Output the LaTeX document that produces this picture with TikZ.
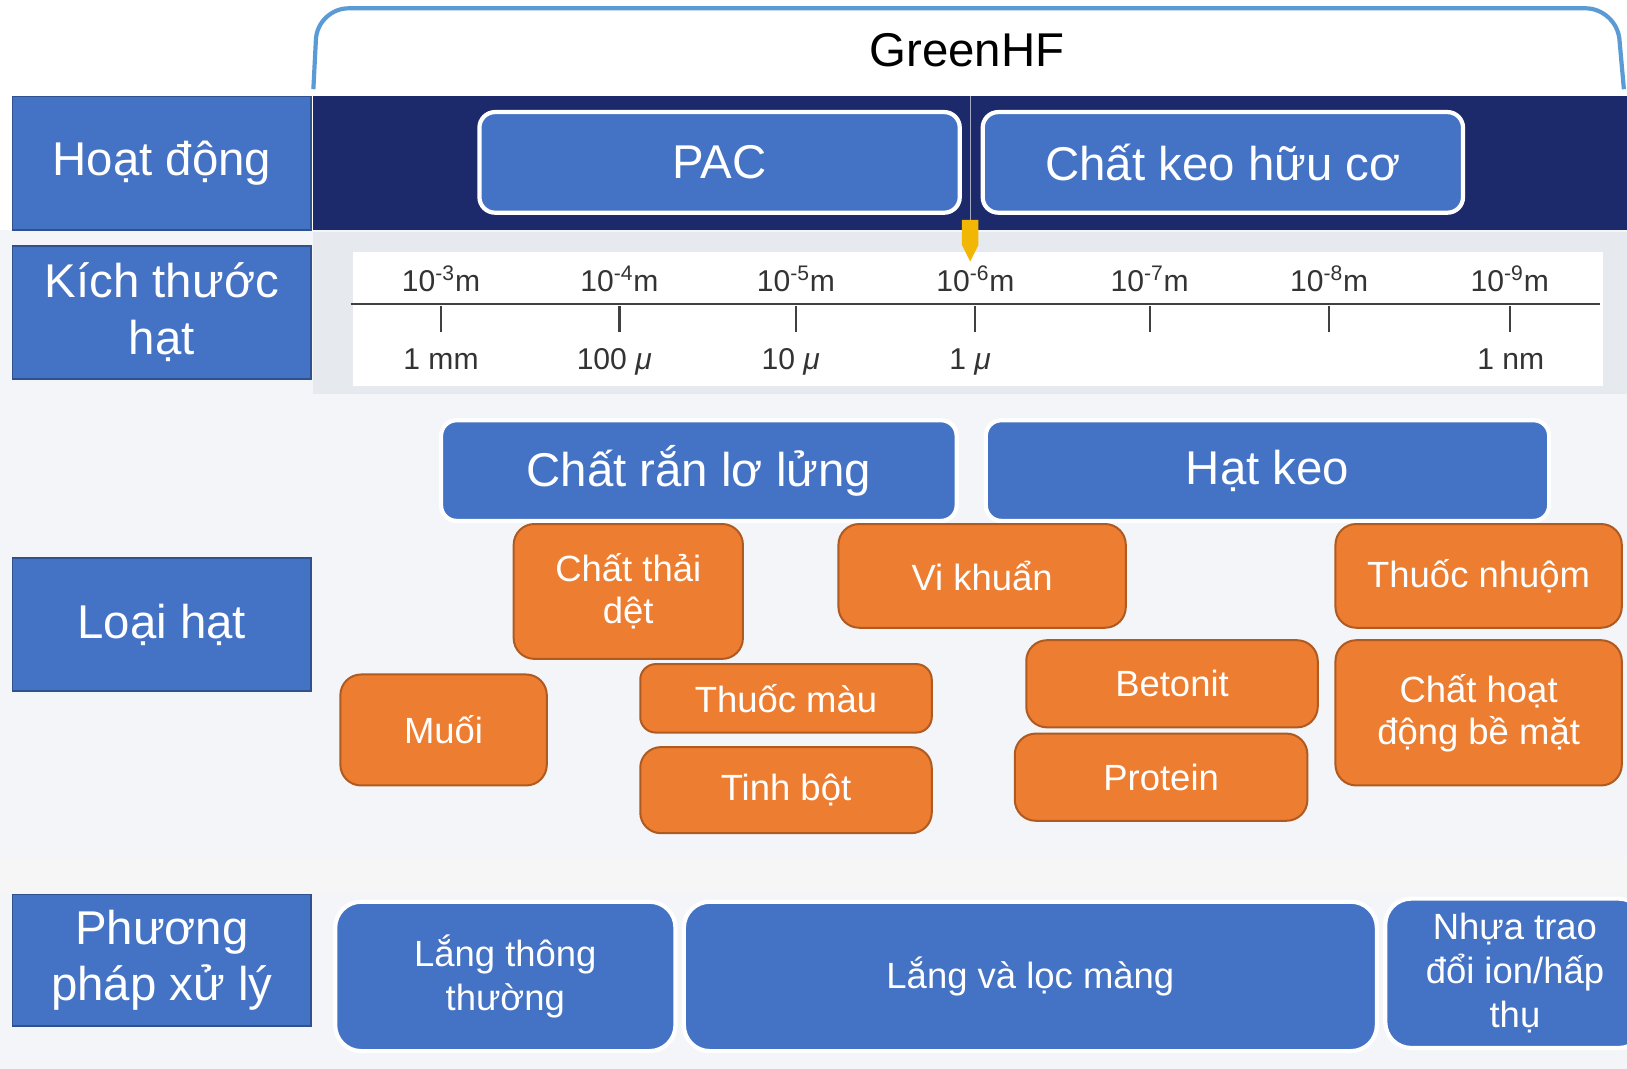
\documentclass[tikz,border=0pt]{standalone}
\usepackage{fontspec}
\setmainfont{Liberation Sans}

\definecolor{boxblue}{HTML}{4472C4}
\definecolor{boxedge}{HTML}{2F528F}
\definecolor{boxorange}{HTML}{ED7D31}
\definecolor{orangeedge}{HTML}{AE5A21}
\definecolor{navy}{HTML}{1C2A6B}
\definecolor{bracket}{HTML}{5B9BD5}
\definecolor{paper}{HTML}{F3F5F8}
\definecolor{rulerbg}{HTML}{E6E9EE}
\definecolor{marker}{HTML}{F2B705}

\tikzset{
  rowlabel/.style={draw=boxedge, line width=1pt, fill=boxblue, text=white,
    align=center, inner sep=0pt, minimum width=5.76cm,
    font=\fontsize{26}{31}\selectfont},
  bluebox/.style={draw=white, line width=2.3pt, fill=boxblue, text=white,
    rounded corners=0.3cm, align=center, inner sep=0pt,
    font=\fontsize{26}{31}\selectfont},
  methodbox/.style={bluebox, rounded corners=0.5cm,
    font=\fontsize{20}{24}\selectfont},
  orangebox/.style={draw=orangeedge, line width=1.1pt, fill=boxorange,
    text=white, rounded corners=0.4cm, align=center, inner sep=0pt,
    font=\fontsize{20}{23}\selectfont},
  tick label/.style={anchor=base, text=black!80, font=\fontsize{16.5}{18}\selectfont},
}

\begin{document}
\begin{tikzpicture}[x=0.02cm,y=-0.02cm]
 \clip (0,0) rectangle (1568,1030);
 % background
 \fill[white] (0,0) rectangle (1568,1030);
 \fill[paper] (0,222) rectangle (1568,1030);
 \fill[black!3.5] (0,828) rectangle (1568,862);
 \fill[navy] (302,93) rectangle (1568,222);
 \draw[navy!40!white, line width=0.6pt] (935,93) -- (935,222);
 % GreenHF bracket
 \draw[bracket, line width=2.3pt, rounded corners=0.6cm]
   (302,86) -- (306,8) -- (1558,8) -- (1565,86);
 \node[font=\fontsize{26}{31}\selectfont] (greenhf) at (932,48) {GreenHF};

 % row labels
 \node[rowlabel, minimum height=2.58cm] (hoatdong) at (156,157.5) {Hoạt động};
 \node[rowlabel, minimum height=2.56cm] (kichthuoc) at (156,301) {Kích thước\\hạt};
 \node[rowlabel, minimum height=2.56cm] (loaihat) at (156,602) {Loại hạt};
 \node[rowlabel, minimum height=2.54cm] (phuongphap) at (156,925.5) {Phương\\pháp xử lý};

 % activities
 \node[bluebox, minimum width=9.26cm, minimum height=1.94cm] (pac) at (693.5,156.5) {PAC};
 \node[bluebox, minimum width=9.26cm, minimum height=1.94cm] (keohuuco) at (1178.5,156.5) {Chất keo hữu cơ};

 % size scale
 \fill[rulerbg] (302,224) rectangle (1568,380);
 \fill[white] (340,243) rectangle (1545,372);
 \draw[black!75, line width=1.2pt] (338,293) -- (1542,293);
 \foreach \xpos/\ex [count=\i] in {425/-3, 597/-4, 767/-5, 940/-6, 1108/-7, 1281/-8, 1455/-9} {
   \draw[black!75, line width=1.2pt] (\xpos,295) -- (\xpos,320);
   \node[tick label] (pow\i) at (\xpos,281) {10\textsuperscript{\ex}m};
 }
 \node[tick label] (mm) at (425,356) {1 mm};
 \node[tick label] (hundredmu) at (592,356) {100 \textit{μ}};
 \node[tick label] (tenmu) at (762,356) {10 \textit{μ}};
 \node[tick label] (onemu) at (935,356) {1 \textit{μ}};
 \node[tick label] (nm) at (1456,356) {1 nm};
 \fill[marker] (927,212) -- (943,212) -- (943,236) -- (935,252) -- (927,236) -- cycle;

 % particle groups
 \node[bluebox, minimum width=9.94cm, minimum height=1.94cm] (ranlolung) at (673.5,453.5) {Chất rắn lơ lửng};
 \node[bluebox, minimum width=10.86cm, minimum height=1.94cm] (hatkeo) at (1221.5,453.5) {Hạt keo};

 % particle types
 \node[orangebox, minimum width=4.42cm, minimum height=2.6cm] (thaidet) at (605.5,570) {Chất thải\\dệt};
 \node[orangebox, minimum width=5.54cm, minimum height=2cm] (vikhuan) at (946.5,555) {Vi khuẩn};
 \node[orangebox, minimum width=5.52cm, minimum height=2cm] (nhuom) at (1425,555) {Thuốc nhuộm};
 \node[orangebox, minimum width=3.98cm, minimum height=2.14cm] (muoi) at (427.5,703.5) {Muối};
 \node[orangebox, minimum width=5.62cm, minimum height=1.32cm, rounded corners=0.3cm] (mau) at (757.5,673) {Thuốc màu};
 \node[orangebox, minimum width=5.62cm, minimum height=1.66cm] (tinhbot) at (757.5,761.5) {Tinh bột};
 \node[orangebox, minimum width=5.62cm, minimum height=1.68cm] (betonit) at (1129.5,659) {Betonit};
 \node[orangebox, minimum width=5.64cm, minimum height=1.68cm] (protein) at (1119,749) {Protein};
 \node[orangebox, minimum width=5.52cm, minimum height=2.8cm] (hoatdongbm) at (1425,687) {Chất hoạt\\động bề mặt};

 % treatment methods
 \node[methodbox, minimum width=6.56cm, minimum height=2.88cm] (langthuong) at (487,941) {Lắng thông\\thường};
 \node[methodbox, minimum width=13.36cm, minimum height=2.88cm] (langloc) at (993,941) {Lắng và lọc màng};
 \node[methodbox, minimum width=5cm, minimum height=2.88cm] (nhua) at (1460,938) {Nhựa trao\\đổi ion/hấp\\thụ};
\end{tikzpicture}
\end{document}
